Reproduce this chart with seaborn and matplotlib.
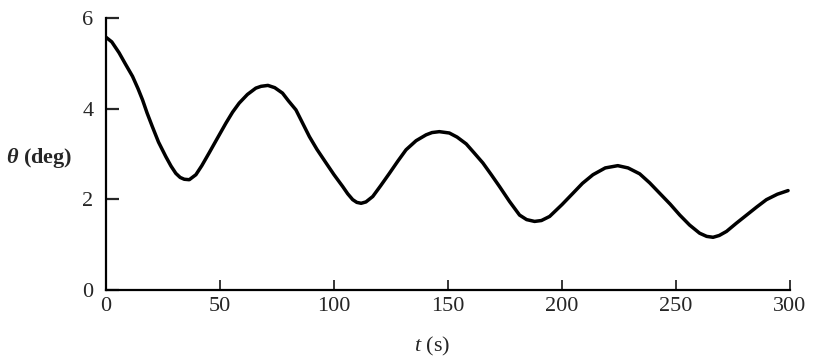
import numpy as np
import pandas as pd
import matplotlib
matplotlib.use("Agg")
import matplotlib.pyplot as plt
import seaborn as sns

# values
t_s = [0, 2.5, 5.7, 8.5, 11.6, 14, 16, 18, 20.3, 23, 26.2, 28.5, 30.6, 32.5,
       34.3, 36.5, 39.4, 42, 45.2, 49, 52.6, 55.5, 58.4, 62, 65.7, 68, 71,
       74, 77.4, 80, 83.3, 86, 89.2, 92.5, 96.5, 100, 103.8, 106, 108.2, 110,
       111.9, 114, 117, 120.5, 124.3, 128, 131.6, 136, 140.4, 143, 146.2,
       150.6, 154, 158, 161.5, 165.3, 169, 172.6, 177, 181.4, 184.5, 188,
       191, 194.6, 200, 204.8, 209, 213.6, 219, 224.5, 229, 234.1, 238.5,
       242.9, 247.5, 251.7, 256, 260.4, 263.5, 266.3, 269, 272.2, 276.5, 281,
       285.5, 289.7, 294.5, 299.2]
theta_deg = [5.57, 5.47, 5.23, 4.98, 4.71, 4.44, 4.19, 3.90, 3.60, 3.26, 2.94,
             2.73, 2.57, 2.48, 2.44, 2.43, 2.54, 2.74, 3.02, 3.36, 3.68, 3.92,
             4.12, 4.31, 4.45, 4.49, 4.51, 4.46, 4.34, 4.17, 3.97, 3.70, 3.38,
             3.10, 2.80, 2.54, 2.28, 2.12, 1.99, 1.93, 1.91, 1.94, 2.06, 2.30,
             2.57, 2.84, 3.09, 3.29, 3.42, 3.47, 3.49, 3.46, 3.37, 3.22, 3.02,
             2.80, 2.54, 2.28, 1.95, 1.65, 1.55, 1.51, 1.53, 1.62, 1.88, 2.13,
             2.35, 2.54, 2.69, 2.74, 2.69, 2.56, 2.36, 2.13, 1.89, 1.65, 1.43,
             1.25, 1.18, 1.16, 1.20, 1.29, 1.47, 1.65, 1.83, 1.99, 2.11, 2.19]
x_ticks = [0, 50, 100, 150, 200, 250, 300]
y_ticks = [0, 2, 4, 6]

df = pd.DataFrame({"t": t_s, "theta": theta_deg})

sns.set_style("ticks")
plt.rcParams["font.family"] = ["Liberation Serif", "DejaVu Serif"]
plt.rcParams["mathtext.fontset"] = "custom"
plt.rcParams["mathtext.it"] = "Liberation Serif:italic"
plt.rcParams["mathtext.rm"] = "Liberation Serif"
plt.rcParams["mathtext.bf"] = "Liberation Serif:bold:italic"

fig = plt.figure(figsize=(8.16, 3.57), dpi=100)
ax = fig.add_axes([0.130, 0.188, 0.838, 0.762])

sns.lineplot(data=df, x="t", y="theta", ax=ax, color="black", linewidth=2.5,
             solid_joinstyle="round", solid_capstyle="round")

ax.set_xlim(0, 300)
ax.set_ylim(0, 6)
ax.set_xticks(x_ticks)
ax.set_yticks(y_ticks)
sns.despine(ax=ax)
for s in ["left", "bottom"]:
    ax.spines[s].set_linewidth(1.6)
    ax.spines[s].set_color("black")
ax.tick_params(axis="y", direction="in", length=9, width=1.6, labelsize=16, pad=9)
ax.tick_params(axis="x", direction="in", length=7, width=1.3, labelsize=16, pad=5)

ax.set_xlabel(r"$t$ (s)", fontsize=16)
ax.xaxis.set_label_coords(0.477, -0.165)
ax.set_ylabel(r"$\mathbf{\theta}$ (deg)", fontsize=16, rotation=0, fontweight="bold")
ax.yaxis.set_label_coords(-0.098, 0.44)

fig.savefig("out.png", dpi=100)
